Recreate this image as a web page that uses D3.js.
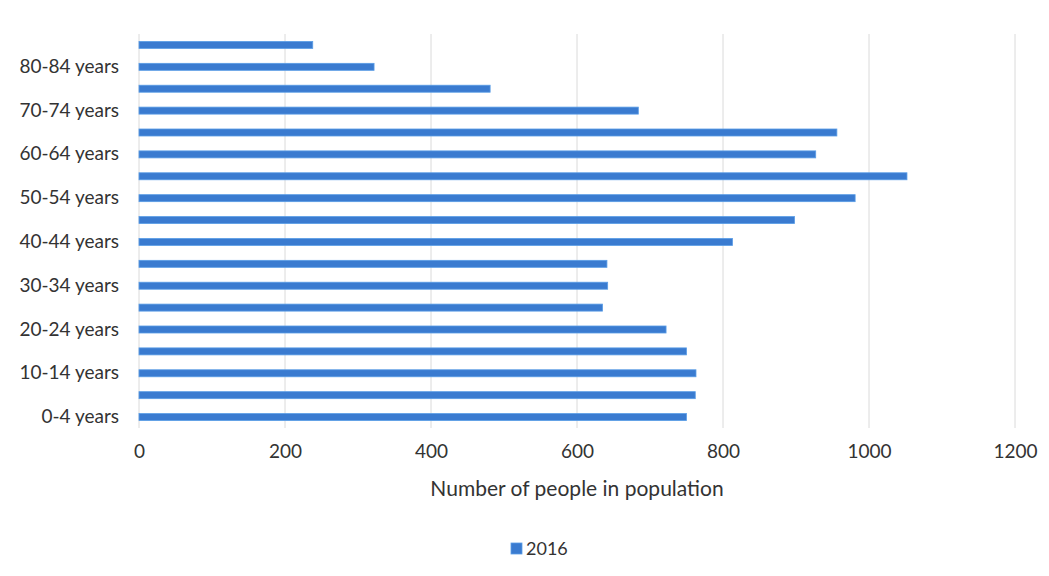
<!DOCTYPE html>
<html>
<head>
<meta charset="utf-8">
<script src="https://cdn.jsdelivr.net/npm/d3@7"></script>
<style>
  html, body { margin: 0; padding: 0; background: #ffffff; }
  svg { display: block; }
  text { font-family: Lato, "Open Sans", sans-serif; fill: #333333; }
</style>
</head>
<body>
<svg id="chart" width="1049" height="576"></svg>
<script>
// Age groups, youngest first (drawn bottom to top)
const ageGroups = [
  "0-4 years", "5-9 years", "10-14 years", "15-19 years", "20-24 years",
  "25-29 years", "30-34 years", "35-39 years", "40-44 years", "45-49 years",
  "50-54 years", "55-59 years", "60-64 years", "65-69 years", "70-74 years",
  "75-79 years", "80-84 years", "85+ years"
];
// Population counts for 2016
const population2016 = [
  750, 762, 763, 750, 722,
  635, 642, 641, 813, 898,
  981, 1052, 927, 956, 684,
  481, 322, 238
];
const xTicks = [0, 200, 400, 600, 800, 1000, 1200];
const seriesName = "2016";
const xTitle = "Number of people in population";

const svg = d3.select("#chart");
const margin = { left: 139, right: 34, top: 34, bottom: 148 };
const W = 1049, H = 576;

const x = d3.scaleLinear().domain([0, 1200]).range([margin.left, W - margin.right]);
const y = d3.scaleBand()
  .domain(ageGroups.slice().reverse())
  .range([margin.top, H - margin.bottom])
  .paddingInner(0.68)
  .paddingOuter(0.34);

// Vertical gridlines
svg.append("g")
  .selectAll("line")
  .data(xTicks)
  .join("line")
  .attr("x1", d => x(d)).attr("x2", d => x(d))
  .attr("y1", margin.top).attr("y2", H - margin.bottom)
  .attr("stroke", "#dadada")
  .attr("stroke-width", 1);

// Bars
svg.append("g")
  .selectAll("rect")
  .data(ageGroups.map((g, i) => ({ g, v: population2016[i] })))
  .join("rect")
  .attr("x", x(0))
  .attr("y", d => y(d.g))
  .attr("width", d => x(d.v) - x(0))
  .attr("height", y.bandwidth())
  .attr("fill", "#3a7bd0")
  .attr("stroke", "#5a9de6")
  .attr("stroke-width", 0.8);

// Category axis: every other label shown
const yAxis = d3.axisLeft(y)
  .tickValues(ageGroups.filter((d, i) => i % 2 === 0))
  .tickSize(0)
  .tickPadding(20);
const gy = svg.append("g")
  .attr("transform", `translate(${margin.left},0)`)
  .call(yAxis);
gy.select(".domain").remove();
gy.selectAll("text")
  .style("font-family", "Lato, 'Open Sans', sans-serif")
  .style("font-size", "19px")
  .attr("fill", "#333333");

// Value axis
const xAxis = d3.axisBottom(x)
  .tickValues(xTicks)
  .tickFormat(d3.format("d"))
  .tickSize(0)
  .tickPadding(17);
const gx = svg.append("g")
  .attr("transform", `translate(0,${H - margin.bottom})`)
  .call(xAxis);
gx.select(".domain").remove();
gx.selectAll("text")
  .style("font-family", "Lato, 'Open Sans', sans-serif")
  .style("font-size", "19px")
  .attr("fill", "#333333");

// Axis title
svg.append("text")
  .attr("x", (x(0) + x(1200)) / 2)
  .attr("y", 496)
  .attr("text-anchor", "middle")
  .style("font-size", "21px")
  .text(xTitle);

// Legend
const lg = svg.append("g").attr("transform", "translate(511,543)");
lg.append("rect")
  .attr("width", 11).attr("height", 11)
  .attr("fill", "#3a7bd0").attr("stroke", "#5a9de6").attr("stroke-width", 0.8);
lg.append("text")
  .attr("x", 15).attr("y", 12)
  .style("font-size", "18px")
  .text(seriesName);
</script>
</body>
</html>
